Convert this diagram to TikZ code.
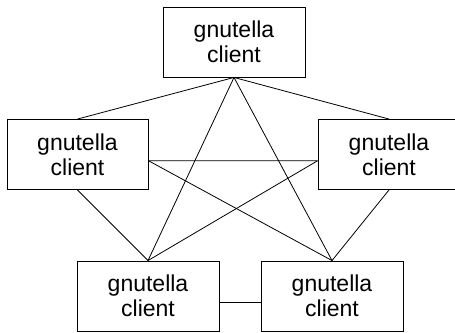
\documentclass[tikz,border=0pt]{standalone}
\usepackage{fontspec}
\setmainfont{Liberation Sans}
\usepackage{tikz}
\tikzstyle{client} = [draw,rectangle,line width=0.9pt,minimum height=70pt,minimum width=142pt,inner sep=0pt,align=center,font=\fontsize{23}{25}\selectfont]
\tikzstyle{line} = [line width=0.8pt]

\begin{document}
\begin{tikzpicture}[x=1pt,y=-1pt]
    % page frame, the right box runs off the edge
    \useasboundingbox (0,0) rectangle (455,332);
    \clip (0,0) rectangle (455,332);
    % the five peers
    \node[client] (top) at (234,42) {gnutella\\client};
    \node[client,minimum width=141pt] (left) at (77.5,154.5) {gnutella\\client};
    \node[client] (right) at (389,154.5) {gnutella\\client};
    \node[client] (botleft) at (148,296) {gnutella\\client};
    \node[client] (botright) at (332,296) {gnutella\\client};
    % now link the nodes
    \draw [line] (top.south) -- (left.north);
    \draw [line] (top.south) -- (right.north);
    \draw [line] (top.south) -- (botleft.north);
    \draw [line] (top.south) -- (botright.north);
    \draw [line] (left.-5.3) -- (right.185.3);
    \draw [line] (left.-5.3) -- (botright.north);
    \draw [line] (right.185.3) -- (botleft.north);
    \draw [line] (left.south) -- (botleft.north);
    \draw [line] (right.south) -- (botright.north);
    \draw [line] (botleft.-5.6) -- (botright.185.6);
\end{tikzpicture}
\end{document}
